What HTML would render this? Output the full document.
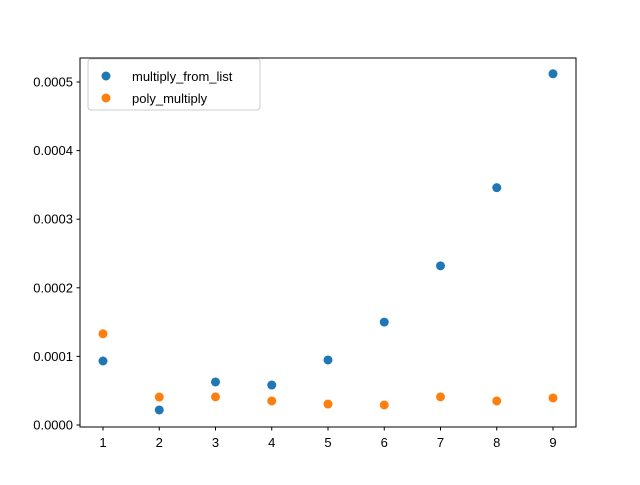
<!DOCTYPE html>
<html><head><meta charset="utf-8"><style>
body{margin:0;background:#fff;}
svg text{font-family:"Liberation Sans","DejaVu Sans",sans-serif;font-size:13px;fill:#000;}
</style></head><body>
<svg id="chart" width="640" height="480">
<rect x="0" y="0" width="640" height="480" fill="#fff"/>
<g id="marks"></g>
<rect x="80" y="58" width="496" height="369" fill="none" stroke="#000" stroke-width="1"/>
<g id="xticks"></g><g id="yticks"></g>
<g>
<rect x="88" y="59" width="172" height="51" rx="3" fill="#fff" fill-opacity="0.8" stroke="#ccc"/>
<circle cx="106" cy="76" r="4.5" fill="#1f77b4"/>
<text x="132" y="81">multiply_from_list</text>
<circle cx="106" cy="98" r="4.5" fill="#ff7f0e"/>
<text x="132" y="103">poly_multiply</text>
</g>
</svg>
<script>
const categories=[1,2,3,4,5,6,7,8,9];
const multiplyFromList=[0.0000933,0.0000219,0.0000627,0.0000583,0.0000948,0.00015,0.000232,0.000346,0.000512];
const polyMultiply=[0.000133,0.0000408,0.000041,0.000035,0.0000306,0.0000292,0.000041,0.000035,0.0000394];
const yTickValues=[0,0.0001,0.0002,0.0003,0.0004,0.0005];
const yTickLabels=["0.0000","0.0001","0.0002","0.0003","0.0004","0.0005"];
const NS="http://www.w3.org/2000/svg";
function xs(v){return 103+(v-1)*56.25;}
function ys(v){return 425-v*686000;}
function mk(t,a,p){const e=document.createElementNS(NS,t);for(const k in a)e.setAttribute(k,a[k]);p.appendChild(e);return e;}
const marks=document.getElementById('marks');
[[multiplyFromList,'#1f77b4','multiply-from-list'],[polyMultiply,'#ff7f0e','poly-multiply']].forEach(([s,c,n])=>{
 s.forEach((v,i)=>{const el=mk('circle',{cx:xs(categories[i]),cy:ys(v),r:4.5,fill:c},marks);
 
 });
});
const xg=document.getElementById('xticks');
categories.forEach(c=>{const x=xs(c);
 mk('line',{x1:x,x2:x,y1:427,y2:430.5,stroke:'#000'},xg);
 const t=mk('text',{x:x,y:447,'text-anchor':'middle'},xg);t.textContent=c;
 
 });
const yg=document.getElementById('yticks');
yTickValues.forEach((v,i)=>{const y=ys(v);
 mk('line',{x1:76.5,x2:80,y1:y,y2:y,stroke:'#000'},yg);
 const t=mk('text',{x:73,y:y+4.5,'text-anchor':'end'},yg);t.textContent=yTickLabels[i];
 
 });
</script>
</body></html>
